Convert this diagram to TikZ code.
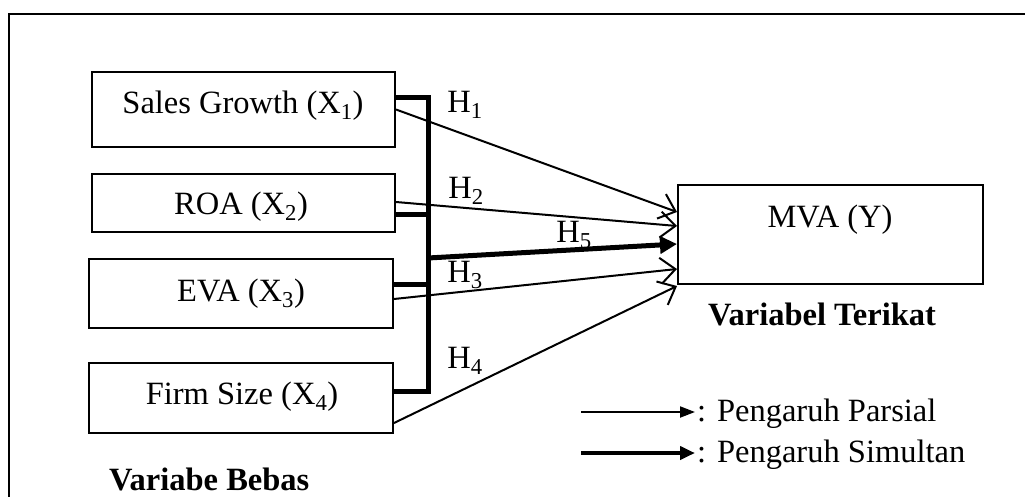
\documentclass[tikz,border=0pt]{standalone}
\usepackage{fontspec}
\setmainfont{Liberation Serif}
\usetikzlibrary{arrows.meta}
\begin{document}
\begin{tikzpicture}[x=1pt,y=-1pt,
  txt/.style={inner sep=0pt, anchor=base, font=\fontsize{32.5}{38}\selectfont},
  boldtxt/.style={txt, font=\fontsize{32.5}{38}\selectfont\bfseries},
  varbox/.style={draw, line width=2pt, inner sep=0pt},
  partial/.style={line width=2pt, -{Straight Barb[length=15pt,width=26pt,line width=2pt]}},
  simbar/.style={line width=5pt},
  simarrow/.style={line width=5pt, -{Triangle[length=17pt,width=17pt]}},
  legthin/.style={line width=2pt, -{Triangle[length=15pt,width=11pt]}},
  legthick/.style={line width=4.5pt, -{Triangle[length=15pt,width=13pt]}}
]
\useasboundingbox (0,0) rectangle (1025,496);
% outer frame (left and top edges)
\draw[line width=2.5pt] (9,497) -- (9,14) -- (1026,14);

% independent variables
\node[varbox, minimum width=303pt, minimum height=75pt] (x1) at (243.5,109.5) {};
\node[varbox, minimum width=303pt, minimum height=58pt] (x2) at (243.5,203) {};
\node[varbox, minimum width=304pt, minimum height=69pt] (x3) at (241,293.5) {};
\node[varbox, minimum width=304pt, minimum height=70pt] (x4) at (241,398) {};
\node[txt] (t1) at (243,113) {Sales Growth (X\textsubscript{1})};
\node[txt] (t2) at (241,214) {ROA (X\textsubscript{2})};
\node[txt] (t3) at (241,301) {EVA (X\textsubscript{3})};
\node[txt] (t4) at (242,404) {Firm Size (X\textsubscript{4})};

% dependent variable
\node[varbox, minimum width=305pt, minimum height=99pt] (y) at (830.5,234.5) {};
\node[txt] (ty) at (830,227) {MVA (Y)};

% simultaneous bracket
\coordinate (bt) at (428,97);
\coordinate (bb) at (428,391);
\draw[simbar] ([yshift=12.5pt]x1.east) -- (bt) -- (bb) -- (bb -| x4.east);
\draw[simbar] (x2.east |- 0,214) -- (bt |- 0,214);
\draw[simbar] (x3.east |- 0,284) -- (bt |- 0,284);

% partial effects
\draw[partial] (x1.east) -- (y.west |- 0,212);
\draw[partial] (x2.east |- 0,202) -- (y.west |- 0,226);
\draw[partial] (x3.east |- 0,299) -- (y.west |- 0,269);
\draw[partial] (x4.east |- 0,423) -- (y.west |- 0,286);
% simultaneous effect
\draw[simarrow] (bt |- 0,258) -- (y.west |- 0,244);

% hypothesis labels
\node[txt] (h1) at (465,112) {H\textsubscript{1}};
\node[txt] (h2) at (466,198) {H\textsubscript{2}};
\node[txt] (h5) at (574,242) {H\textsubscript{5}};
\node[txt] (h3) at (465,282) {H\textsubscript{3}};
\node[txt] (h4) at (465,368) {H\textsubscript{4}};

% group captions
\node[boldtxt] (cy) at (822,325) {Variabel Terikat};
\node[boldtxt, anchor=base west] (cx) at (109,490) {Variabe Bebas};

% legend
\coordinate (l1a) at (581,412);
\coordinate (l1b) at (695,412);
\coordinate (l2a) at (581,453);
\coordinate (l2b) at (695,453);
\draw[legthin] (l1a) -- (l1b);
\draw[legthick] (l2a) -- (l2b);
\node[txt, anchor=base west] (lp) at (697,421) {: Pengaruh Parsial};
\node[txt, anchor=base west] (ls) at (697,462) {: Pengaruh Simultan};
\end{tikzpicture}
\end{document}
